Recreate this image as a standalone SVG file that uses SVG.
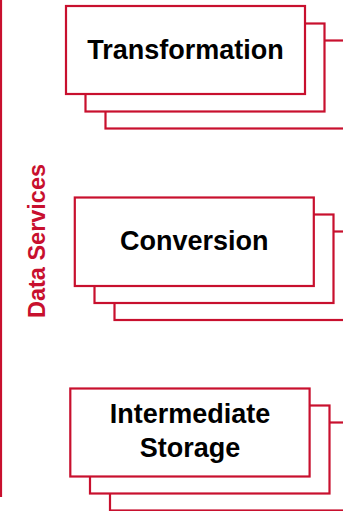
<svg xmlns="http://www.w3.org/2000/svg" width="343" height="511" viewBox="0 0 343 511">
  <style>
    .card { fill: #ffffff; stroke: #C8102E; stroke-width: 2.2; }
    .label { font-family: "Liberation Sans", Arial, sans-serif; font-weight: bold; font-size: 27px; fill: #000000; text-anchor: middle; }
    .side { font-family: "Liberation Sans", Arial, sans-serif; font-weight: bold; font-size: 23.5px; fill: #C8102E; text-anchor: middle; }
    .rule { stroke: #C8102E; stroke-width: 2.2; fill: none; }
  </style>
  <rect width="343" height="511" fill="#ffffff"/>

  <!-- vertical rule and group title -->
  <g id="group-label">
    <line class="rule" x1="1" y1="0" x2="1" y2="497"/>
    <text class="side" transform="translate(45 241) rotate(-90)">Data Services</text>
  </g>

  <!-- stacked cards: back, middle, front -->
  <g id="transformation">
    <rect class="card" x="105.5" y="40.5" width="239" height="88"/>
    <rect class="card" x="85.5" y="23.5" width="239" height="88"/>
    <rect class="card" x="66" y="6" width="239" height="88"/>
    <text class="label" x="185.5" y="59">Transformation</text>
  </g>

  <g id="conversion">
    <rect class="card" x="114.5" y="231.5" width="239" height="88.5"/>
    <rect class="card" x="94.5" y="214.5" width="239" height="88.5"/>
    <rect class="card" x="74.8" y="197.5" width="239" height="88.5"/>
    <text class="label" x="194.3" y="250">Conversion</text>
  </g>

  <g id="intermediate-storage">
    <rect class="card" x="110" y="422.5" width="239.5" height="88"/>
    <rect class="card" x="90" y="405.5" width="239.5" height="88"/>
    <rect class="card" x="70.3" y="388.5" width="239.3" height="88"/>
    <text class="label" x="190" y="422.7">Intermediate</text>
    <text class="label" x="190" y="457.3">Storage</text>
  </g>

  <g id="connectors"></g>
</svg>
